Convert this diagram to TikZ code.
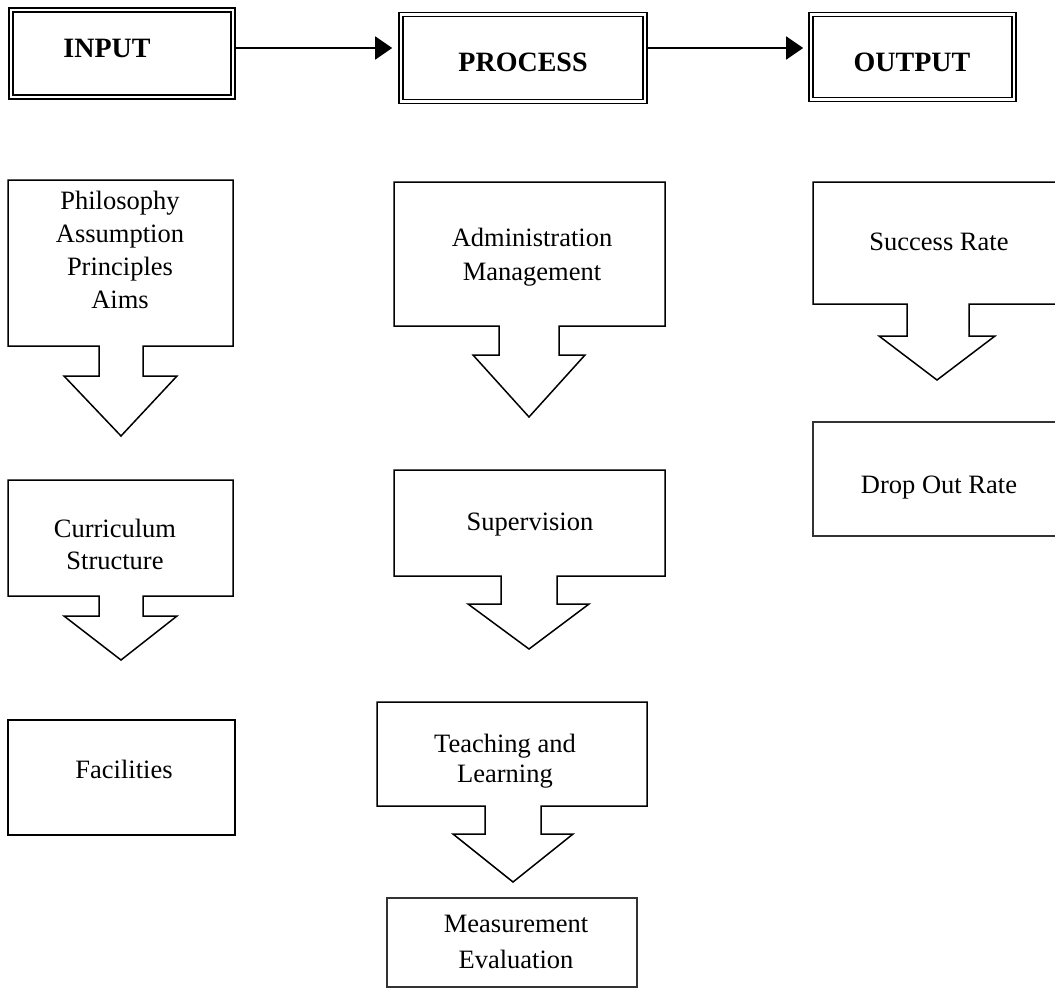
\documentclass[tikz,border=0pt]{standalone}
\usepackage{fontspec}
\setmainfont{Liberation Serif}
\usetikzlibrary{arrows.meta}
\begin{document}
\begin{tikzpicture}[x=1pt,y=-1pt,
  headbox/.style={draw=black,double,double distance=2.4pt,line width=1.6pt,inner sep=0pt},
  headtxt/.style={font=\fontsize{28}{33}\selectfont\bfseries,inner sep=0pt,anchor=base},
  bodytxt/.style={font=\fontsize{26.5}{33}\selectfont,inner sep=0pt,anchor=base,align=center},
  callout/.style={draw=black,line width=1.5pt,line join=miter},
  plainbox/.style={draw=black!80,line width=1.3pt,inner sep=0pt},
  arr/.style={line width=1.5pt,-{Triangle[length=17pt,width=23pt]}}]
\useasboundingbox (0,0) rectangle (1055,990);
\clip (0,0) rectangle (1055,990);
\fill[white] (0,0) rectangle (1055,990);
% header boxes
\node[headbox,minimum width=222pt,minimum height=87pt] (inbox) at (122,53.5) {};
\node[headbox,minimum width=244pt,minimum height=87pt] (procbox) at (523,58) {};
\node[headbox,minimum width=203pt,minimum height=85pt] (outbox) at (912.5,57) {};
\node[headtxt] (intxt) at (107,58) {INPUT};
\node[headtxt] (proctxt) at (523,72) {PROCESS};
\node[headtxt] (outtxt) at (912,72) {OUTPUT};
\coordinate (arrowy) at (0,48);
\draw[arr,shorten >=8pt] (inbox.east |- arrowy) -- (procbox.west |- arrowy);
\draw[arr,shorten >=7pt] (procbox.east |- arrowy) -- (outbox.west |- arrowy);
% INPUT column
\draw[callout] (8,180) -- (233,180) -- (233,346) -- (143,346) -- (143,376) -- (177,376)
  -- (121,436) -- (64,376) -- (99,376) -- (99,346) -- (8,346) -- cycle;
\node[bodytxt] (philo) at (120,308) {Philosophy\\Assumption\\Principles\\Aims};
\draw[callout] (8,480) -- (233,480) -- (233,596) -- (143,596) -- (143,616) -- (177,616)
  -- (121,660) -- (64,616) -- (99,616) -- (99,596) -- (8,596) -- cycle;
\node[bodytxt,font=\fontsize{26.5}{32}\selectfont] (curr) at (115,569) {Curriculum\\Structure};
\draw[callout] (8,720) rectangle (235,835);
\node[bodytxt] (fac) at (124,778) {Facilities};
% PROCESS column
\draw[callout] (394,182) -- (665,182) -- (665,326) -- (559,326) -- (559,355) -- (585,355)
  -- (529,417) -- (473,355) -- (499,355) -- (499,326) -- (394,326) -- cycle;
\node[bodytxt,font=\fontsize{26.5}{34}\selectfont] (admin) at (532,280) {Administration\\Management};
\draw[callout] (394,470) -- (665,470) -- (665,576) -- (557,576) -- (557,604) -- (589,604)
  -- (529,649) -- (468,604) -- (501,604) -- (501,576) -- (394,576) -- cycle;
\node[bodytxt] (superv) at (530,530) {Supervision};
\draw[callout] (377,702) -- (647,702) -- (647,806) -- (541,806) -- (541,834) -- (573,834)
  -- (513,882) -- (453,834) -- (485,834) -- (485,806) -- (377,806) -- cycle;
\node[bodytxt,font=\fontsize{26.5}{30}\selectfont] (teach) at (505,782) {Teaching and\\Learning};
\draw[plainbox] (387,898) rectangle (637,987);
\node[bodytxt,font=\fontsize{26.5}{36}\selectfont] (meas) at (516,968) {Measurement\\Evaluation};
% OUTPUT column
\draw[callout] (813,182) -- (1062,182) -- (1062,304) -- (969,304) -- (969,336) -- (995,336)
  -- (937,380) -- (879,336) -- (907,336) -- (907,304) -- (813,304) -- cycle;
\node[bodytxt] (succ) at (939,250) {Success Rate};
\draw[plainbox] (813,422) rectangle (1062,536);
\node[bodytxt] (drop) at (939,493) {Drop Out Rate};
\end{tikzpicture}
\end{document}
